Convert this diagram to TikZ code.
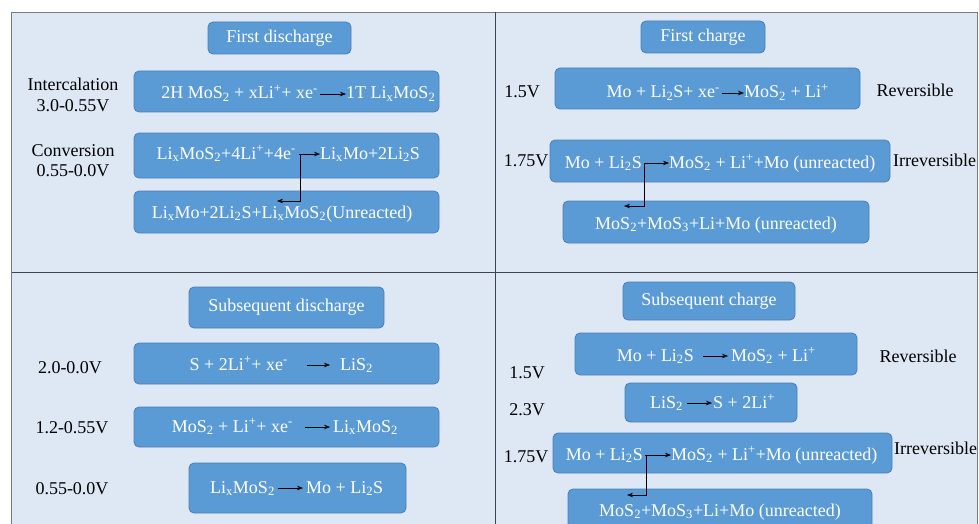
\documentclass[tikz,border=0pt]{standalone}
\usepackage{fontspec}
\setmainfont{Liberation Serif}
\usetikzlibrary{arrows.meta}

\definecolor{panelbg}{HTML}{DEE8F4}
\definecolor{boxfill}{HTML}{5B9BD5}
\definecolor{boxedge}{HTML}{4A7EBB}
\definecolor{framegray}{HTML}{767B80}
\definecolor{divgray}{HTML}{3F444A}

\newcommand\chsub[1]{\textsubscript{#1}}
\newcommand\chsup[1]{\textsuperscript{#1}}

\tikzset{
  stagebox/.style={rectangle, rounded corners=5pt, fill=boxfill, draw=boxedge,
    line width=0.8pt, text=white, inner sep=0pt, align=center},
  rt/.style={text=white, inner sep=0pt},
  lbl/.style={text=black, inner sep=0pt, align=center},
  arr/.style={-{Stealth[length=6pt,width=4.5pt]}, line width=0.7pt, black},
}

\begin{document}
\begin{tikzpicture}[x=1pt, y=-1pt, font=\fontsize{18}{21}\selectfont]
\useasboundingbox (0,0) rectangle (979,524);
\clip (0,0) rectangle (979,524);

% frame and quadrant dividers
\fill[white] (0,0) rectangle (979,524);
\draw[framegray, line width=1.6pt, fill=panelbg] (11.5,12.5) rectangle (977.5,540);
\draw[divgray, line width=1.8pt] (495.5,12.5) -- (495.5,540);
\draw[divgray, line width=1.8pt] (11.5,272.5) -- (977.5,272.5);

% ---------- first discharge ----------
\node[stagebox, minimum width=143pt, minimum height=32pt] (t1) at (279.5,38) {First discharge};

\node[lbl] (lint) at (73,94.5) {Intercalation\\3.0-0.55V};
\node[stagebox, minimum width=305pt, minimum height=41pt] (b1) at (286.5,91.5) {};
\node[rt, anchor=base east] (b1l) at (318,99) {2H MoS\chsub{2} + xLi\chsup{+}+ xe\chsup{-}};
\node[rt, anchor=base west] (b1r) at (346,99) {1T Li\chsub{x}MoS\chsub{2}};
\draw[arr, shorten <=2pt] ([yshift=5pt]b1l.base east) -- ([yshift=5pt]b1r.base west);

\node[lbl, font=\fontsize{18}{20}\selectfont] (lconv) at (73,160.5) {Conversion\\0.55-0.0V};
\node[stagebox, minimum width=305pt, minimum height=45pt] (b2) at (286.5,155.5) {};
\node[rt, anchor=base east] (b2l) at (296,159) {Li\chsub{x}MoS\chsub{2}+4Li\chsup{+}+4e\chsup{-}};
\node[rt, anchor=base west] (b2r) at (320,159) {Li\chsub{x}Mo+2Li\chsub{2}S};
\draw[arr, shorten <=3pt] ([yshift=5pt]b2l.base east) -- ([yshift=5pt]b2r.base west);

\node[stagebox, minimum width=305pt, minimum height=42pt] (b3) at (286.5,212) {};
\node[rt, anchor=base] (b3t) at (282,218) {Li\chsub{x}Mo+2Li\chsub{2}S+Li\chsub{x}MoS\chsub{2}(Unreacted)};
\coordinate (b2k) at (300,154);
\coordinate (b3e) at (277,201);
\draw[arr] (b2k) |- (b3e);

% ---------- first charge ----------
\node[stagebox, minimum width=124pt, minimum height=32pt] (t2) at (703,37) {First charge};

\node[lbl, anchor=base] (v1) at (522,98) {1.5V};
\node[stagebox, minimum width=305pt, minimum height=41pt] (c1) at (707.5,88.5) {};
\node[rt, anchor=base east] (c1l) at (720,98) {Mo + Li\chsub{2}S+ xe\chsup{-}};
\node[rt, anchor=base west] (c1r) at (744,98) {MoS\chsub{2} + Li\chsup{+}};
\draw[arr, shorten <=2pt] ([yshift=5pt]c1l.base east) -- ([yshift=5pt]c1r.base west);
\node[lbl, anchor=base] (rev1) at (915,97) {Reversible};

\node[lbl, anchor=base] (v2) at (526,166) {1.75V};
\node[stagebox, minimum width=340pt, minimum height=42pt] (c2) at (720,161) {};
\node[rt, anchor=base east] (c2l) at (642,168) {Mo + Li\chsub{2}S};
\node[rt, anchor=base west] (c2r) at (669,168) {MoS\chsub{2} + Li\chsup{+}+Mo (unreacted)};
\draw[arr, shorten <=2pt] ([yshift=5pt]c2l.base east) -- ([yshift=5pt]c2r.base west);
\node[lbl, anchor=base west] (irr1) at (893,166) {Irreversible};

\node[stagebox, minimum width=306pt, minimum height=42pt] (c3) at (716,222) {};
\node[rt, anchor=base] (c3t) at (716,229) {MoS\chsub{2}+MoS\chsub{3}+Li+Mo (unreacted)};
\coordinate (c2k) at (644,163);
\coordinate (c3e) at (624,206);
\draw[arr] (c2k) |- (c3e);

% ---------- subsequent discharge ----------
\node[stagebox, minimum width=195pt, minimum height=41pt] (t3) at (286.5,307.5) {Subsequent discharge};

\node[lbl, anchor=base] (v3) at (70,373) {2.0-0.0V};
\node[stagebox, minimum width=305pt, minimum height=41pt] (d1) at (286.5,363.5) {};
\node[rt, anchor=base east] (d1l) at (288,370) {S + 2Li\chsup{+}+ xe\chsup{-}};
\node[rt, anchor=base west] (d1r) at (340,370) {LiS\chsub{2}};
\draw[arr, shorten <=19pt, shorten >=10pt] ([yshift=5pt]d1l.base east) -- ([yshift=5pt]d1r.base west);

\node[lbl, anchor=base] (v4) at (72,433) {1.2-0.55V};
\node[stagebox, minimum width=305pt, minimum height=40pt] (d2) at (286.5,427) {};
\node[rt, anchor=base east] (d2l) at (293,432) {MoS\chsub{2} + Li\chsup{+}+ xe\chsup{-}};
\node[rt, anchor=base west] (d2r) at (333,432) {Li\chsub{x}MoS\chsub{2}};
\draw[arr, shorten <=12pt, shorten >=3pt] ([yshift=5pt]d2l.base east) -- ([yshift=5pt]d2r.base west);

\node[lbl, anchor=base] (v5) at (72,494) {0.55-0.0V};
\node[stagebox, minimum width=217pt, minimum height=50pt] (d3) at (297.5,488) {};
\node[rt, anchor=base east] (d3l) at (275,493) {Li\chsub{x}MoS\chsub{2}};
\node[rt, anchor=base west] (d3r) at (306,493) {Mo + Li\chsub{2}S};
\draw[arr, shorten <=3pt, shorten >=3pt] ([yshift=5pt]d3l.base east) -- ([yshift=5pt]d3r.base west);

% ---------- subsequent charge ----------
\node[stagebox, minimum width=172pt, minimum height=38pt] (t4) at (709,301) {Subsequent charge};

\node[stagebox, minimum width=282pt, minimum height=42pt] (e1) at (716,354) {};
\node[rt, anchor=base east] (e1l) at (694,361) {Mo + Li\chsub{2}S};
\node[rt, anchor=base west] (e1r) at (731,361) {MoS\chsub{2} + Li\chsup{+}};
\draw[arr, shorten <=9pt, shorten >=3pt] ([yshift=5pt]e1l.base east) -- ([yshift=5pt]e1r.base west);
\node[lbl, anchor=base] (rev2) at (918,362) {Reversible};
\node[lbl, anchor=base] (v6) at (527,378) {1.5V};

\node[stagebox, minimum width=172pt, minimum height=39pt] (e2) at (711,402.5) {};
\node[rt, anchor=base east] (e2l) at (683,408) {LiS\chsub{2}};
\node[rt, anchor=base west] (e2r) at (713,408) {S + 2Li\chsup{+}};
\draw[arr, shorten <=4pt, shorten >=1pt] ([yshift=5pt]e2l.base east) -- ([yshift=5pt]e2r.base west);
\node[lbl, anchor=base] (v7) at (527,415) {2.3V};

\node[lbl, anchor=base] (v8) at (526,462) {1.75V};
\node[stagebox, minimum width=339pt, minimum height=40pt] (e3) at (722.5,453) {};
\node[rt, anchor=base east] (e3l) at (643,460) {Mo + Li\chsub{2}S};
\node[rt, anchor=base west] (e3r) at (671,460) {MoS\chsub{2} + Li\chsup{+}+Mo (unreacted)};
\draw[arr, shorten <=2pt] ([yshift=5pt]e3l.base east) -- ([yshift=5pt]e3r.base west);
\node[lbl, anchor=base west] (irr2) at (894,454) {Irreversible};

\node[stagebox, minimum width=304pt, minimum height=46pt] (e4) at (720,512) {};
\node[rt, anchor=base] (e4t) at (720,516) {MoS\chsub{2}+MoS\chsub{3}+Li+Mo (unreacted)};
\coordinate (e3k) at (646,455);
\coordinate (e4e) at (627,495);
\draw[arr] (e3k) |- (e4e);
\end{tikzpicture}
\end{document}
